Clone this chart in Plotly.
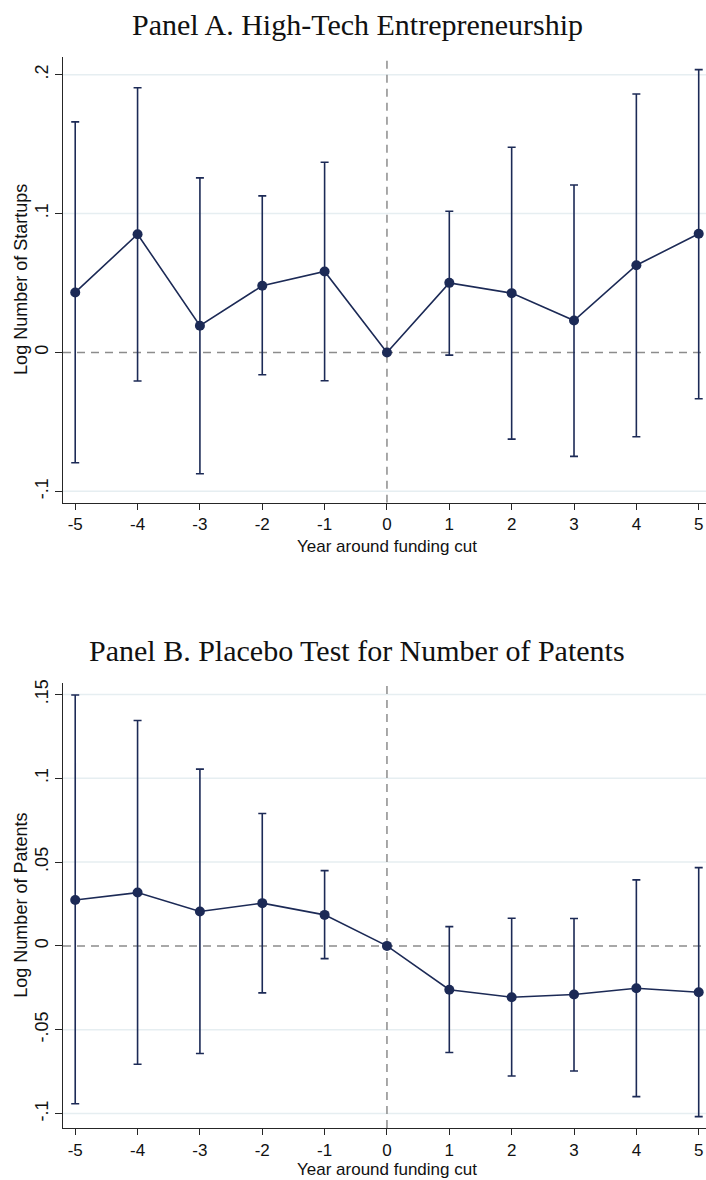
import plotly.graph_objects as go

# ---------------- data ----------------
years = [-5, -4, -3, -2, -1, 0, 1, 2, 3, 4, 5]
year_labels = ["-5", "-4", "-3", "-2", "-1", "0", "1", "2", "3", "4", "5"]

startups_coef = [0.0432, 0.0851, 0.0192, 0.0480, 0.0583, 0.0, 0.0501, 0.0427, 0.0230, 0.0628, 0.0854]
startups_hi = [0.1660, 0.1906, 0.1257, 0.1127, 0.1369, 0.0, 0.1017, 0.1477, 0.1206, 0.1861, 0.2036]
startups_lo = [-0.0794, -0.0206, -0.0873, -0.0161, -0.0204, 0.0, -0.0019, -0.0624, -0.0748, -0.0607, -0.0333]

patents_coef = [0.0274, 0.0318, 0.0205, 0.0255, 0.0185, 0.0, -0.0261, -0.0306, -0.0290, -0.0253, -0.0276]
patents_hi = [0.1496, 0.1344, 0.1054, 0.0790, 0.0449, 0.0, 0.0115, 0.0165, 0.0163, 0.0394, 0.0467]
patents_lo = [-0.0941, -0.0706, -0.0642, -0.0280, -0.0076, 0.0, -0.0636, -0.0776, -0.0746, -0.0899, -0.1018]

top_yticks = [-0.1, 0.0, 0.1, 0.2]
top_ytext = ["-.1", "0", ".1", ".2"]
bot_yticks = [-0.1, -0.05, 0.0, 0.05, 0.1, 0.15]
bot_ytext = ["-.1", "-.05", "0", ".05", ".1", ".15"]

title_a = "Panel A. High-Tech Entrepreneurship"
title_b = "Panel B. Placebo Test for Number of Patents"
xtitle = "Year around funding cut"
ytitle_a = "Log Number of Startups"
ytitle_b = "Log Number of Patents"

# ---------------- style ----------------
NAVY = "#1c2a56"
GRID = "#e6eef1"
REF = "#8c8c8c"
AXIS = "#262626"
SANS = "Liberation Sans, Arial, sans-serif"
SERIF = "Liberation Serif, Times New Roman, serif"

TOP_RANGE = [-0.1082, 0.2127]
BOT_RANGE = [-0.1086, 0.1566]

fig = go.Figure()


def add_series(coef, hi, lo, xa, ya):
    plus = [h - c for h, c in zip(hi, coef)]
    minus = [c - l for c, l in zip(coef, lo)]
    fig.add_trace(go.Scatter(
        x=years, y=coef, xaxis=xa, yaxis=ya, mode="lines+markers",
        line=dict(color=NAVY, width=1.6),
        marker=dict(color=NAVY, size=10),
        error_y=dict(type="data", symmetric=False, array=plus, arrayminus=minus,
                     color=NAVY, thickness=1.6, width=4),
        showlegend=False, cliponaxis=False,
    ))


add_series(startups_coef, startups_hi, startups_lo, "x", "y")
add_series(patents_coef, patents_hi, patents_lo, "x2", "y2")

xcommon = dict(
    range=[-5.196, 5.117], tickmode="array", tickvals=years, ticktext=year_labels,
    showgrid=False, zeroline=False, showline=True, linecolor=AXIS, linewidth=1.3,
    ticks="outside", ticklen=6, tickwidth=1.2, tickcolor=AXIS,
    tickfont=dict(family=SANS, size=17, color="#111"), automargin=False,
)
ycommon = dict(
    tickmode="array", showgrid=False,
    zeroline=False, showline=True, linecolor=AXIS, linewidth=1.3,
    ticks="outside", ticklen=7, tickwidth=1.2, tickcolor=AXIS, tickangle=-90,
    tickfont=dict(family=SANS, size=18, color="#111"), automargin=False,
)

fig.update_layout(
    width=706, height=1180,
    margin=dict(l=63, r=0, t=57, b=52),
    paper_bgcolor="white", plot_bgcolor="white",
    xaxis=dict(**xcommon, domain=[0, 1], anchor="y"),
    yaxis=dict(**ycommon, domain=[0.5838, 1], anchor="x",
               range=TOP_RANGE, tickvals=top_yticks, ticktext=top_ytext),
    xaxis2=dict(**xcommon, domain=[0, 1], anchor="y2"),
    yaxis2=dict(**ycommon, domain=[0, 0.4152], anchor="x2",
                range=BOT_RANGE, tickvals=bot_yticks, ticktext=bot_ytext),
)

# gridlines (all ticks except 0, where the dashed reference line sits)
for xr, yr, ticks in [("x", "y", top_yticks), ("x2", "y2", bot_yticks)]:
    for t in ticks:
        if t == 0:
            continue
        fig.add_shape(type="line", xref="paper", yref=yr, x0=0, x1=1, y0=t, y1=t,
                      line=dict(color=GRID, width=1.5), layer="below")

# reference lines (dashed, at 0 on both axes)
for xr, yr, rng in [("x", "y", TOP_RANGE), ("x2", "y2", BOT_RANGE)]:
    fig.add_shape(type="line", xref="paper", yref=yr, x0=0, x1=1, y0=0, y1=0,
                  line=dict(color=REF, width=1.5, dash="8px,6px"), layer="below")
    fig.add_shape(type="line", xref=xr, yref=yr, x0=0, x1=0, y0=rng[0], y1=rng[1],
                  line=dict(color=REF, width=1.5, dash="8px,6px"), layer="below")

# titles
fig.add_annotation(text=title_a, xref="paper", yref="paper", x=0.458, y=1.0299,
                   showarrow=False, xanchor="center", yanchor="middle",
                   font=dict(family=SERIF, size=30, color="#111"))
fig.add_annotation(text=title_b, xref="paper", yref="paper", x=0.458, y=0.4454,
                   showarrow=False, xanchor="center", yanchor="middle",
                   font=dict(family=SERIF, size=30, color="#111"))

# axis titles
fig.add_annotation(text=xtitle, xref="x", yref="paper", x=0, y=0.5434,
                   showarrow=False, xanchor="center", yanchor="middle",
                   font=dict(family=SANS, size=17, color="#111"))
fig.add_annotation(text=xtitle, xref="x2", yref="paper", x=0, y=-0.0392,
                   showarrow=False, xanchor="center", yanchor="middle",
                   font=dict(family=SANS, size=17, color="#111"))
fig.add_annotation(text=ytitle_a, xref="paper", yref="paper", x=-0.0653, y=0.7919,
                   showarrow=False, xanchor="center", yanchor="middle", textangle=-90,
                   font=dict(family=SANS, size=18, color="#111"))
fig.add_annotation(text=ytitle_b, xref="paper", yref="paper", x=-0.0653, y=0.2076,
                   showarrow=False, xanchor="center", yanchor="middle", textangle=-90,
                   font=dict(family=SANS, size=18, color="#111"))

fig.write_html("out.html")
